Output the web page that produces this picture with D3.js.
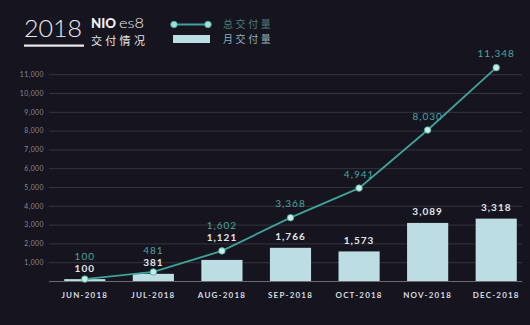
<!DOCTYPE html>
<html><head><meta charset="utf-8">
<script src="https://cdn.jsdelivr.net/npm/d3@7"></script>
<style>
html,body{margin:0;padding:0;background:#16141e;}
svg{display:block;}
</style></head>
<body>
<svg id="chart" width="530" height="325"></svg>
<script>
const categories = ["JUN-2018","JUL-2018","AUG-2018","SEP-2018","OCT-2018","NOV-2018","DEC-2018"];
const monthly = [100, 381, 1121, 1766, 1573, 3089, 3318];
const cumulative = [100, 481, 1602, 3368, 4941, 8030, 11348];
const yTicks = [1000,2000,3000,4000,5000,6000,7000,8000,9000,10000,11000];
const seriesNames = ["总交付量","月交付量"];

const svg = d3.select("#chart");
svg.append("rect").attr("width",530).attr("height",325).attr("fill","#16141e");

const x = d3.scaleBand().domain(categories).range([50.5, 530.5]).paddingInner(0.4).paddingOuter(0.2);
const y = d3.scaleLinear().domain([0, 12000]).range([281, 55.4]);
const fmt = d3.format(",");

// grid
const yAxis = d3.axisLeft(y).tickValues(yTicks).tickSize(0).tickFormat(fmt);
const gy = svg.append("g").attr("transform","translate(44,0)").call(yAxis);
gy.select(".domain").remove();
gy.selectAll("text").attr("fill","#8a8a92").attr("font-family","Lato, sans-serif").attr("font-size",6.8).attr("letter-spacing",0.5).attr("x",0).attr("dy","0.35em");
svg.append("g").selectAll("line").data(yTicks).join("line")
  .attr("x1",49).attr("x2",522).attr("y1",d=>y(d)+0.5).attr("y2",d=>y(d)+0.5)
  .attr("stroke","#36343f").attr("stroke-width",1);

// bars
svg.append("g").selectAll("rect").data(monthly).join("rect")
  .attr("x",(d,i)=>x(categories[i])).attr("width",x.bandwidth())
  .attr("y",d=>y(d)).attr("height",d=>y(0)-y(d))
  .attr("fill","#bcdde3");

// baseline
svg.append("line").attr("x1",49).attr("x2",522).attr("y1",y(0)+0.5).attr("y2",y(0)+0.5).attr("stroke","#6a6a72").attr("stroke-width",1.2);

// x axis
const xAxis = d3.axisBottom(x).tickSize(0);
const gx = svg.append("g").attr("transform",`translate(0,${y(0)})`).call(xAxis);
gx.select(".domain").remove();
gx.selectAll("text").attr("fill","#d8dde2").attr("font-family","Lato, sans-serif").attr("font-weight","bold")
  .attr("font-size",8).attr("letter-spacing",1.2).attr("dy","1.7em");

// line
const cx = i => x(categories[i]) + x.bandwidth()/2;
const line = d3.line().x((d,i)=>cx(i)).y(d=>y(d));
svg.append("path").datum(cumulative).attr("d",line).attr("fill","none").attr("stroke","#3fa39b").attr("stroke-width",1.8);
svg.append("g").selectAll("circle").data(cumulative).join("circle")
  .attr("cx",(d,i)=>cx(i)).attr("cy",d=>y(d)).attr("r",3.3)
  .attr("fill","#c9ece8").attr("stroke","#3fa39b").attr("stroke-width",0.8);

// labels
const labelPos = monthly.map((m,i)=>{
  const barTop = y(m), pt = y(cumulative[i]);
  let wy = barTop - 11;
  if (Math.abs(wy - pt) < 6) wy = pt - 13;
  let ty = pt - 14;
  if (ty > wy - 11) ty = wy - 12;
  return {wy, ty};
});
svg.append("g").selectAll("text").data(monthly).join("text")
  .attr("x",(d,i)=>cx(i)).attr("y",(d,i)=>labelPos[i].wy).attr("dy","0.35em")
  .attr("text-anchor","middle").attr("fill","#e2e7ea").attr("font-family","Lato, sans-serif")
  .attr("font-weight","bold").attr("font-size",10).attr("letter-spacing",1).text(d=>fmt(d));
svg.append("g").selectAll("text").data(cumulative).join("text")
  .attr("x",(d,i)=>cx(i)).attr("y",(d,i)=>labelPos[i].ty).attr("dy","0.35em")
  .attr("text-anchor","middle").attr("fill","#4aa59e").attr("font-family","Lato, sans-serif")
  .attr("font-size",10).attr("letter-spacing",1).text(d=>fmt(d));

// header
svg.append("text").attr("x",24).attr("y",37).attr("fill","#e8ecef").attr("font-family","Lato, sans-serif")
  .attr("font-weight",300).attr("font-size",24).attr("textLength",58).attr("lengthAdjust","spacingAndGlyphs").text("2018");
svg.append("rect").attr("x",24).attr("y",44.5).attr("width",60).attr("height",2.2).attr("fill","#e8ecef");
svg.append("text").attr("x",91).attr("y",28).attr("fill","#eef1f3").attr("font-family","Lato, sans-serif")
  .attr("font-size",12.5).attr("font-weight",900).attr("textLength",25).attr("lengthAdjust","spacingAndGlyphs").text("NIO");
svg.append("text").attr("x",119).attr("y",28).attr("fill","#eef1f3").attr("font-family","Lato, sans-serif")
  .attr("font-size",14).attr("font-weight",300).attr("textLength",25).attr("lengthAdjust","spacingAndGlyphs").text("es8");
svg.append("text").attr("x",91).attr("y",44.5).attr("fill","#e3e7ea").attr("font-family","'Noto Sans CJK SC', sans-serif")
  .attr("font-size",11).attr("letter-spacing",3.3).text("交付情况");

// legend
svg.append("line").attr("x1",174).attr("x2",208).attr("y1",24.5).attr("y2",24.5).attr("stroke","#3fa39b").attr("stroke-width",1.8);
svg.append("g").selectAll("circle").data([174,208]).join("circle")
  .attr("cx",d=>d).attr("cy",24.5).attr("r",3.3).attr("fill","#9fe0da").attr("stroke","#3fa39b").attr("stroke-width",0.8);
svg.append("rect").attr("x",173).attr("y",35).attr("width",37).attr("height",8).attr("fill","#bcdde3");
svg.append("text").attr("x",223).attr("y",24.5).attr("dy","0.35em").attr("fill","#4b7e7e")
  .attr("font-family","'Noto Sans CJK SC', sans-serif").attr("font-size",10).attr("letter-spacing",2.6).text(seriesNames[0]);
svg.append("text").attr("x",223).attr("y",39.5).attr("dy","0.35em").attr("fill","#8fb3b8")
  .attr("font-family","'Noto Sans CJK SC', sans-serif").attr("font-size",10).attr("letter-spacing",2.6).text(seriesNames[1]);
</script>
</body></html>
